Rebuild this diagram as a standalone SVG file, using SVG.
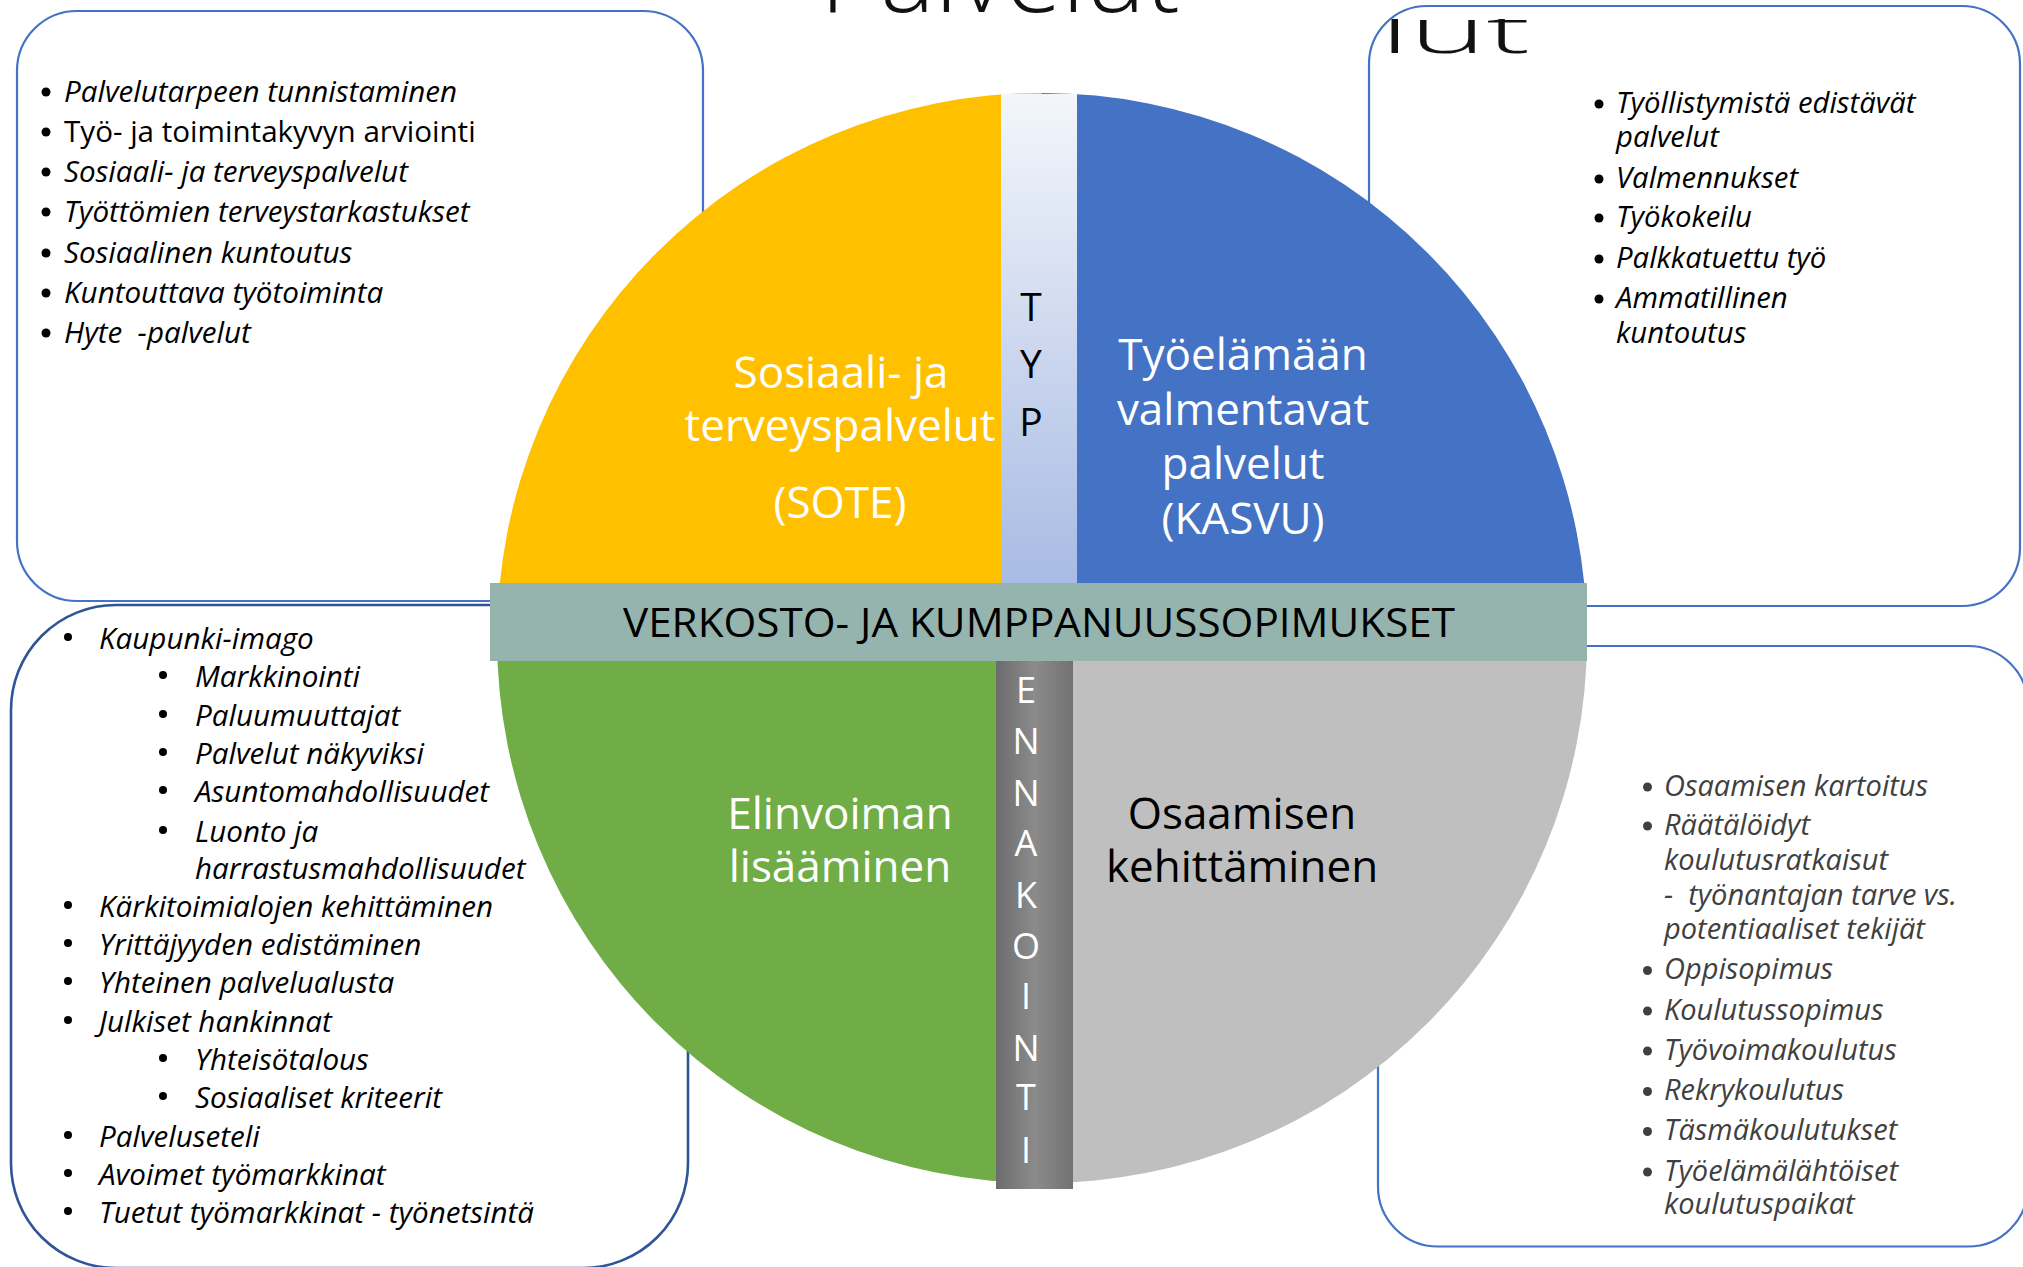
<svg xmlns="http://www.w3.org/2000/svg" width="2023" height="1267" viewBox="0 0 2023 1267">
<style>
  .box { fill: #ffffff; stroke: #4472c4; stroke-width: 2.2; }
  .box-dark { fill: #ffffff; stroke: #2f5597; stroke-width: 2.6; }
  .li { font-family: "Open Sans", "Noto Sans", sans-serif; font-size: 29px; font-style: italic; fill: #000000; white-space: pre; }
  .li-l { font-size: 29.6px; }
  .li-tr { font-size: 29.3px; }
  .li-up { font-style: normal; }
  .li-gray { fill: #404040; }
  .bul { fill: #000000; }
  .bul-gray { fill: #404040; }
  .q { font-family: "Open Sans", "Noto Sans", sans-serif; font-size: 44px; text-anchor: middle; }
  .white { fill: #ffffff; }
  .black { fill: #000000; }
  .strip { font-family: "Open Sans", "Noto Sans", sans-serif; text-anchor: middle; }
  .title { font-family: "Open Sans", "Noto Sans", sans-serif; font-weight: 300; fill: #111111; }
</style>
<defs>
  <linearGradient id="typGrad" x1="0" y1="0" x2="0" y2="1">
    <stop offset="0" stop-color="#f3f6fb"/>
    <stop offset="1" stop-color="#a8bbe4"/>
  </linearGradient>
  <linearGradient id="ennGrad" x1="0" y1="0" x2="1" y2="0">
    <stop offset="0" stop-color="#6c6c6c"/>
    <stop offset="0.5" stop-color="#8b8b8b"/>
    <stop offset="1" stop-color="#727272"/>
  </linearGradient>
  <clipPath id="lutClip">
    <rect x="1372" y="19" width="170" height="50"/>
  </clipPath>
</defs>

<rect width="2023" height="1267" fill="#ffffff"/>

<!-- Top-left box -->
<g id="box-sote-list">
  <rect class="box" x="17" y="11" width="686" height="590" rx="60" ry="60"/>
  <circle class="bul" cx="46" cy="92" r="4.5"/>
  <text class="li li-l" x="64" y="102">Palvelutarpeen tunnistaminen</text>
  <circle class="bul" cx="46" cy="132" r="4.5"/>
  <text class="li li-l li-up" x="64" y="142">Työ- ja toimintakyvyn arviointi</text>
  <circle class="bul" cx="46" cy="172" r="4.5"/>
  <text class="li li-l" x="64" y="182">Sosiaali- ja terveyspalvelut</text>
  <circle class="bul" cx="46" cy="212" r="4.5"/>
  <text class="li li-l" x="64" y="222">Työttömien terveystarkastukset</text>
  <circle class="bul" cx="46" cy="253" r="4.5"/>
  <text class="li li-l" x="64" y="263">Sosiaalinen kuntoutus</text>
  <circle class="bul" cx="46" cy="293" r="4.5"/>
  <text class="li li-l" x="64" y="303">Kuntouttava työtoiminta</text>
  <circle class="bul" cx="46" cy="333" r="4.5"/>
  <text class="li li-l" x="64" y="343">Hyte  -palvelut</text>
</g>

<!-- Top-right box -->
<g id="box-kasvu-list">
  <rect class="box" x="1369" y="6" width="651" height="600" rx="58" ry="58"/>
  <g clip-path="url(#lutClip)">
    <text class="title" x="1380" y="53" font-size="62" textLength="150" lengthAdjust="spacingAndGlyphs">lut</text>
  </g>
  <circle class="bul" cx="1599" cy="104" r="4.5"/>
  <text class="li li-tr" x="1616" y="113">Työllistymistä edistävät</text>
  <text class="li li-tr" x="1616" y="147">palvelut</text>
  <circle class="bul" cx="1599" cy="179" r="4.5"/>
  <text class="li li-tr" x="1616" y="188">Valmennukset</text>
  <circle class="bul" cx="1599" cy="218" r="4.5"/>
  <text class="li li-tr" x="1616" y="227">Työkokeilu</text>
  <circle class="bul" cx="1599" cy="259" r="4.5"/>
  <text class="li li-tr" x="1616" y="268">Palkkatuettu työ</text>
  <circle class="bul" cx="1599" cy="299" r="4.5"/>
  <text class="li li-tr" x="1616" y="308">Ammatillinen</text>
  <text class="li li-tr" x="1616" y="343">kuntoutus</text>
</g>

<!-- Bottom-left box -->
<g id="box-elinvoima-list">
  <rect class="box-dark" x="11" y="605" width="677" height="663" rx="105" ry="105"/>
  <circle class="bul" cx="68" cy="637" r="4"/>
  <text class="li li-l" x="99" y="649">Kaupunki-imago</text>
  <circle class="bul" cx="163" cy="675" r="4"/>
  <text class="li li-l" x="195" y="687">Markkinointi</text>
  <circle class="bul" cx="163" cy="714" r="4"/>
  <text class="li li-l" x="195" y="725.5">Paluumuuttajat</text>
  <circle class="bul" cx="163" cy="752" r="4"/>
  <text class="li li-l" x="195" y="764">Palvelut näkyviksi</text>
  <circle class="bul" cx="163" cy="790" r="4"/>
  <text class="li li-l" x="195" y="802">Asuntomahdollisuudet</text>
  <circle class="bul" cx="163" cy="830" r="4"/>
  <text class="li li-l" x="195" y="841.5">Luonto ja</text>
  <text class="li li-l" x="195" y="878.5">harrastusmahdollisuudet</text>
  <circle class="bul" cx="68" cy="905" r="4"/>
  <text class="li li-l" x="99" y="917">Kärkitoimialojen kehittäminen</text>
  <circle class="bul" cx="68" cy="943" r="4"/>
  <text class="li li-l" x="99" y="955">Yrittäjyyden edistäminen</text>
  <circle class="bul" cx="68" cy="981" r="4"/>
  <text class="li li-l" x="99" y="993">Yhteinen palvelualusta</text>
  <circle class="bul" cx="68" cy="1020" r="4"/>
  <text class="li li-l" x="99" y="1032">Julkiset hankinnat</text>
  <circle class="bul" cx="163" cy="1058" r="4"/>
  <text class="li li-l" x="195" y="1070">Yhteisötalous</text>
  <circle class="bul" cx="163" cy="1096" r="4"/>
  <text class="li li-l" x="195" y="1108">Sosiaaliset kriteerit</text>
  <circle class="bul" cx="68" cy="1135" r="4"/>
  <text class="li li-l" x="99" y="1146.5">Palveluseteli</text>
  <circle class="bul" cx="68" cy="1173" r="4"/>
  <text class="li li-l" x="99" y="1185">Avoimet työmarkkinat</text>
  <circle class="bul" cx="68" cy="1211" r="4"/>
  <text class="li li-l" x="99" y="1223">Tuetut työmarkkinat - työnetsintä</text>
</g>

<!-- Bottom-right box -->
<g id="box-osaaminen-list">
  <rect class="box" x="1378" y="646" width="650" height="600.5" rx="60" ry="60"/>
  <circle class="bul-gray" cx="1647.5" cy="787" r="4.5"/>
  <text class="li li-gray" x="1664" y="795.5">Osaamisen kartoitus</text>
  <circle class="bul-gray" cx="1647.5" cy="826" r="4.5"/>
  <text class="li li-gray" x="1664" y="834.5">Räätälöidyt</text>
  <text class="li li-gray" x="1664" y="869.5">koulutusratkaisut</text>
  <text class="li li-gray" x="1664" y="905">-  työnantajan tarve vs.</text>
  <text class="li li-gray" x="1664" y="938.5">potentiaaliset tekijät</text>
  <circle class="bul-gray" cx="1647.5" cy="970.5" r="4.5"/>
  <text class="li li-gray" x="1664" y="979">Oppisopimus</text>
  <circle class="bul-gray" cx="1647.5" cy="1011" r="4.5"/>
  <text class="li li-gray" x="1664" y="1019.5">Koulutussopimus</text>
  <circle class="bul-gray" cx="1647.5" cy="1051" r="4.5"/>
  <text class="li li-gray" x="1664" y="1059.5">Työvoimakoulutus</text>
  <circle class="bul-gray" cx="1647.5" cy="1091.5" r="4.5"/>
  <text class="li li-gray" x="1664" y="1100">Rekrykoulutus</text>
  <circle class="bul-gray" cx="1647.5" cy="1131.5" r="4.5"/>
  <text class="li li-gray" x="1664" y="1140">Täsmäkoulutukset</text>
  <circle class="bul-gray" cx="1647.5" cy="1172" r="4.5"/>
  <text class="li li-gray" x="1664" y="1180.5">Työelämälähtöiset</text>
  <text class="li li-gray" x="1664" y="1214">koulutuspaikat</text>
</g>

<!-- Title -->
<g id="title">
  <text class="title" x="820" y="12" font-size="100" textLength="360" lengthAdjust="spacingAndGlyphs">Palvelut</text>
</g>

<!-- Circle quadrants -->
<g id="quadrant-sote">
  <path d="M1042,638 L497,638 A545,545 0 0 1 1042,93 Z" fill="#ffc000"/>
  <text class="q white" x="841" y="388">Sosiaali- ja</text>
  <text class="q white" x="840" y="441">terveyspalvelut</text>
  <text class="q white" x="840" y="518">(SOTE)</text>
</g>
<g id="quadrant-kasvu">
  <path d="M1042,638 L1042,93 A545,545 0 0 1 1587,638 Z" fill="#4472c4"/>
  <text class="q white" x="1243" y="370">Työelämään</text>
  <text class="q white" x="1243" y="425">valmentavat</text>
  <text class="q white" x="1243" y="479">palvelut</text>
  <text class="q white" x="1243" y="534">(KASVU)</text>
</g>
<g id="quadrant-osaaminen">
  <path d="M1042,638 L1587,638 A545,545 0 0 1 1042,1183 Z" fill="#bfbfbf"/>
  <text class="q black" x="1242" y="828.5">Osaamisen</text>
  <text class="q black" x="1242" y="882">kehittäminen</text>
</g>
<g id="quadrant-elinvoima">
  <path d="M1042,638 L1042,1183 A545,545 0 0 1 497,638 Z" fill="#70ad47"/>
  <text class="q white" x="840" y="828.5">Elinvoiman</text>
  <text class="q white" x="840" y="882">lisääminen</text>
</g>

<!-- TYP strip -->
<g id="strip-typ">
  <rect x="1001" y="94" width="76" height="489" fill="url(#typGrad)"/>
  <text class="strip black" x="1031" y="321" font-size="39">T</text>
  <text class="strip black" x="1031" y="378" font-size="39">Y</text>
  <text class="strip black" x="1031" y="436" font-size="39">P</text>
</g>

<!-- ENNAKOINTI strip -->
<g id="strip-ennakointi">
  <rect x="996" y="661" width="77" height="528" fill="url(#ennGrad)"/>
  <text class="strip white" x="1026" y="703" font-size="36">E</text>
  <text class="strip white" x="1026" y="754" font-size="36">N</text>
  <text class="strip white" x="1026" y="806" font-size="36">N</text>
  <text class="strip white" x="1026" y="856" font-size="36">A</text>
  <text class="strip white" x="1026" y="908" font-size="36">K</text>
  <text class="strip white" x="1026" y="959" font-size="36">O</text>
  <text class="strip white" x="1026" y="1009" font-size="36">I</text>
  <text class="strip white" x="1026" y="1061" font-size="36">N</text>
  <text class="strip white" x="1026" y="1110" font-size="36">T</text>
  <text class="strip white" x="1026" y="1163" font-size="36">I</text>
</g>

<!-- Band -->
<g id="band-verkosto">
  <rect x="490" y="583" width="1097" height="78" fill="#95b4ae"/>
  <text class="strip black" x="1039" y="637" font-size="40" textLength="832" lengthAdjust="spacingAndGlyphs">VERKOSTO- JA KUMPPANUUSSOPIMUKSET</text>
</g>

<g id="connectors"/>
</svg>
